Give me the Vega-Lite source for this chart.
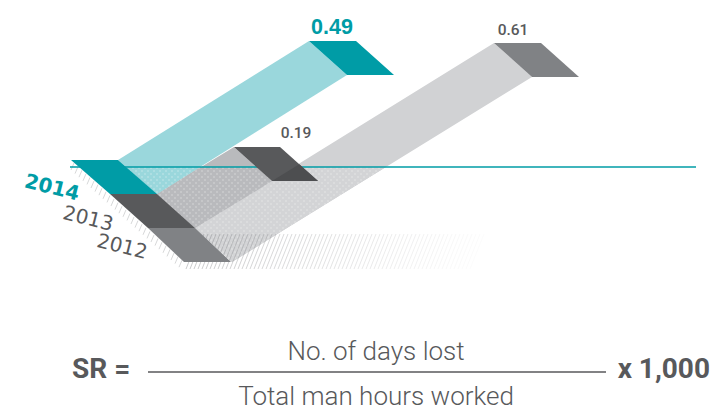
{"$schema":"https://vega.github.io/schema/vega-lite/v6.json","width":710,"height":410,"padding":0,"autosize":{"type":"fit","contains":"padding"},"background":"white","config":{"view":{"stroke":null}},
"resolve":{"scale":{"color":"independent","opacity":"independent"}},
"encoding":{"x":{"field":"x","type":"quantitative","scale":{"domain":[0,710],"nice":false,"zero":false},"axis":null},"y":{"field":"y","type":"quantitative","scale":{"domain":[0,410],"reverse":true,"nice":false,"zero":false},"axis":null}},
"layer":[
{"data":{"values":[
{"part":"ribbon 2012","y":43,"x":494,"x2":494},{"part":"ribbon 2012","y":77,"x":439,"x2":532},{"part":"ribbon 2012","y":228,"x":195,"x2":287},{"part":"ribbon 2012","y":262,"x":232,"x2":232},
{"part":"ribbon 2013","y":147,"x":234,"x2":234},{"part":"ribbon 2013","y":181,"x":178,"x2":272},{"part":"ribbon 2013","y":194,"x":157,"x2":251},{"part":"ribbon 2013","y":228,"x":195,"x2":195},
{"part":"ribbon 2014","y":41,"x":309,"x2":309},{"part":"ribbon 2014","y":75,"x":254.4,"x2":347},{"part":"ribbon 2014","y":160,"x":118,"x2":211.3},{"part":"ribbon 2014","y":194,"x":157,"x2":157},
{"part":"lower 2012","y":167,"x":293.6,"x2":386},{"part":"lower 2012","y":228,"x":195,"x2":287},{"part":"lower 2012","y":262,"x":232,"x2":232},
{"part":"lower 2013","y":167,"x":200,"x2":256},{"part":"lower 2013","y":181,"x":178,"x2":272},{"part":"lower 2013","y":194,"x":157,"x2":251},{"part":"lower 2013","y":228,"x":195,"x2":195},
{"part":"lower 2014","y":167,"x":126,"x2":200},{"part":"lower 2014","y":194,"x":157,"x2":157}
]},"mark":{"type":"area","orient":"horizontal"},"encoding":{"x2":{"field":"x2"},"color":{"field":"part","type":"nominal","legend":null,"scale":{"domain":["ribbon 2012","ribbon 2013","ribbon 2014","lower 2012","lower 2013","lower 2014"],"range":["#D1D2D4","#B9BABD","#9AD7DC","#D3D4D6","#B9BABD","#9AD7DC"]}}}},
{"data":{"values":[
{"y":168,"x":126,"x2":384},{"y":171,"x":129,"x2":380},{"y":174,"x":132,"x2":375},{"y":177,"x":135,"x2":370},{"y":180,"x":138,"x2":365},{"y":183,"x":141,"x2":360},{"y":186,"x":144,"x2":355},{"y":189,"x":147,"x2":350},{"y":192,"x":150,"x2":345},{"y":195,"x":153,"x2":341},{"y":198,"x":156,"x2":336},{"y":201,"x":159,"x2":331},{"y":204,"x":162,"x2":326},{"y":207,"x":165,"x2":321},{"y":210,"x":168,"x2":316},{"y":213,"x":171,"x2":311},{"y":216,"x":174,"x2":306},{"y":219,"x":177,"x2":302},{"y":222,"x":180,"x2":297},{"y":225,"x":183,"x2":292},{"y":228,"x":186,"x2":287},{"y":231,"x":189,"x2":282},{"y":234,"x":192,"x2":277},{"y":237,"x":195,"x2":272},{"y":240,"x":198,"x2":268},{"y":243,"x":201,"x2":263},{"y":246,"x":204,"x2":258},{"y":249,"x":207,"x2":253},{"y":252,"x":210,"x2":248},{"y":255,"x":213,"x2":243},{"y":258,"x":216,"x2":238}
]},"mark":{"type":"rule","color":"white","opacity":0.25,"strokeWidth":1.6,"strokeDash":[2,4]},"encoding":{"x2":{"field":"x2"}}},
{"data":{"values":[
{"x":186,"x2":200,"y":269,"y2":234},{"x":190,"x2":204,"y":269,"y2":234},{"x":194,"x2":208,"y":269,"y2":234},{"x":198,"x2":212,"y":269,"y2":234},{"x":202,"x2":216,"y":269,"y2":234},{"x":206,"x2":220,"y":269,"y2":234},{"x":210,"x2":224,"y":269,"y2":234},{"x":214,"x2":228,"y":269,"y2":234},{"x":218,"x2":232,"y":269,"y2":234},{"x":222,"x2":236,"y":269,"y2":234},{"x":226,"x2":240,"y":269,"y2":234},{"x":230,"x2":244,"y":269,"y2":234},{"x":234,"x2":248,"y":269,"y2":234},{"x":238,"x2":252,"y":269,"y2":234},{"x":242,"x2":256,"y":269,"y2":234},{"x":246,"x2":260,"y":269,"y2":234},{"x":250,"x2":264,"y":269,"y2":234},{"x":254,"x2":268,"y":269,"y2":234},{"x":258,"x2":272,"y":269,"y2":234},{"x":262,"x2":276,"y":269,"y2":234},{"x":266,"x2":280,"y":269,"y2":234},{"x":270,"x2":284,"y":269,"y2":234},{"x":274,"x2":288,"y":269,"y2":234},{"x":278,"x2":292,"y":269,"y2":234},{"x":282,"x2":296,"y":269,"y2":234},{"x":286,"x2":300,"y":269,"y2":234},{"x":290,"x2":304,"y":269,"y2":234},{"x":294,"x2":308,"y":269,"y2":234},{"x":298,"x2":312,"y":269,"y2":234},{"x":302,"x2":316,"y":269,"y2":234},{"x":306,"x2":320,"y":269,"y2":234},{"x":310,"x2":324,"y":269,"y2":234},{"x":314,"x2":328,"y":269,"y2":234},{"x":318,"x2":332,"y":269,"y2":234},{"x":322,"x2":336,"y":269,"y2":234},{"x":326,"x2":340,"y":269,"y2":234},{"x":330,"x2":344,"y":269,"y2":234},{"x":334,"x2":348,"y":269,"y2":234},{"x":338,"x2":352,"y":269,"y2":234},{"x":342,"x2":356,"y":269,"y2":234},{"x":346,"x2":360,"y":269,"y2":234},{"x":350,"x2":364,"y":269,"y2":234},{"x":354,"x2":368,"y":269,"y2":234},{"x":358,"x2":372,"y":269,"y2":234},{"x":362,"x2":376,"y":269,"y2":234},{"x":366,"x2":380,"y":269,"y2":234},{"x":370,"x2":384,"y":269,"y2":234},{"x":374,"x2":388,"y":269,"y2":234},{"x":378,"x2":392,"y":269,"y2":234},{"x":382,"x2":396,"y":269,"y2":234},{"x":386,"x2":400,"y":269,"y2":234},{"x":390,"x2":404,"y":269,"y2":234},{"x":394,"x2":408,"y":269,"y2":234},{"x":398,"x2":412,"y":269,"y2":234},{"x":402,"x2":416,"y":269,"y2":234},{"x":406,"x2":420,"y":269,"y2":234},{"x":410,"x2":424,"y":269,"y2":234},{"x":414,"x2":428,"y":269,"y2":234},{"x":418,"x2":432,"y":269,"y2":234},{"x":422,"x2":436,"y":269,"y2":234},{"x":426,"x2":440,"y":269,"y2":234},{"x":430,"x2":444,"y":269,"y2":234},{"x":434,"x2":448,"y":269,"y2":234},{"x":438,"x2":452,"y":269,"y2":234},{"x":442,"x2":456,"y":269,"y2":234},{"x":446,"x2":460,"y":269,"y2":234},{"x":450,"x2":464,"y":269,"y2":234},{"x":454,"x2":468,"y":269,"y2":234},{"x":458,"x2":472,"y":269,"y2":234},{"x":462,"x2":476,"y":269,"y2":234},{"x":466,"x2":480,"y":269,"y2":234},{"x":470,"x2":484,"y":269,"y2":234}
]},"mark":{"type":"rule","color":"#808285","strokeWidth":1},"encoding":{"y2":{"field":"y2"},"x2":{"field":"x2"},"opacity":{"field":"x","type":"quantitative","legend":null,"scale":{"domain":[186,480],"range":[0.42,0.01]}}}},
{"data":{"values":[
{"x":74,"y":163,"x2":71,"y2":170},{"x":78,"y":166.6,"x2":75,"y2":173.6},{"x":82,"y":170.2,"x2":79,"y2":177.2},{"x":86,"y":173.8,"x2":83,"y2":180.8},{"x":90,"y":177.4,"x2":87,"y2":184.4},{"x":94,"y":181,"x2":91,"y2":188},{"x":98,"y":184.6,"x2":95,"y2":191.6},{"x":102,"y":188.2,"x2":99,"y2":195.2},{"x":106,"y":191.8,"x2":103,"y2":198.8},{"x":110,"y":195.4,"x2":107,"y2":202.4},{"x":114,"y":199,"x2":111,"y2":206},{"x":118,"y":202.6,"x2":115,"y2":209.6},{"x":122,"y":206.2,"x2":119,"y2":213.2},{"x":126,"y":209.8,"x2":123,"y2":216.8},{"x":130,"y":213.4,"x2":127,"y2":220.4},{"x":134,"y":217,"x2":131,"y2":224},{"x":138,"y":220.6,"x2":135,"y2":227.6},{"x":142,"y":224.2,"x2":139,"y2":231.2},{"x":146,"y":227.8,"x2":143,"y2":234.8},{"x":150,"y":231.4,"x2":147,"y2":238.4},{"x":154,"y":235,"x2":151,"y2":242},{"x":158,"y":238.6,"x2":155,"y2":245.6},{"x":162,"y":242.2,"x2":159,"y2":249.2},{"x":166,"y":245.8,"x2":163,"y2":252.8},{"x":170,"y":249.4,"x2":167,"y2":256.4},{"x":174,"y":253,"x2":171,"y2":260},{"x":178,"y":256.6,"x2":175,"y2":263.6},{"x":182,"y":260.2,"x2":179,"y2":267.2}
]},"mark":{"type":"rule","color":"#808285","opacity":0.32,"strokeWidth":1},"encoding":{"x2":{"field":"x2"},"y2":{"field":"y2"}}},
{"data":{"values":[{"x":70,"x2":696,"y":167}]},"mark":{"type":"rule","color":"#009CA6","strokeWidth":1.5},"encoding":{"x2":{"field":"x2"}}},
{"data":{"values":[
{"part":"2014 start","y":160,"x":71,"x2":118},{"part":"2014 start","y":194,"x":110,"x2":157},
{"part":"2013 start","y":194,"x":110,"x2":157},{"part":"2013 start","y":228,"x":148,"x2":195},
{"part":"2012 start","y":228,"x":148,"x2":195},{"part":"2012 start","y":262,"x":184,"x2":231},
{"part":"2014 end","y":41,"x":309,"x2":356},{"part":"2014 end","y":75,"x":347,"x2":394},
{"part":"2013 end","y":147,"x":234,"x2":280},{"part":"2013 end","y":181,"x":272,"x2":318},
{"part":"2012 end","y":43,"x":494,"x2":541},{"part":"2012 end","y":77,"x":532,"x2":579},
{"part":"2013 overlap","y":164.2,"x":299.2,"x2":299.2},{"part":"2013 overlap","y":181,"x":272,"x2":318}
]},"mark":{"type":"area","orient":"horizontal"},"encoding":{"x2":{"field":"x2"},"color":{"field":"part","type":"nominal","legend":null,"scale":{"domain":["2014 start","2013 start","2012 start","2014 end","2013 end","2012 end","2013 overlap"],"range":["#009CA6","#58595B","#808285","#009CA6","#58595B","#808285","#4D4E50"]}}}},
{"data":{"values":[{"x":148,"x2":606,"y":372}]},"mark":{"type":"rule","color":"#58595B","strokeWidth":1.5},"encoding":{"x2":{"field":"x2"}}},
{"data":{"values":[{"x":332,"y":34,"t":"0.49"}]},"mark":{"type":"text","font":"Liberation Sans","fontWeight":"bold","fontSize":21.5,"color":"#009CA6","align":"center","baseline":"alphabetic"},"encoding":{"text":{"field":"t"}}},
{"data":{"values":[{"x":513,"y":35,"t":"0.61"},{"x":296,"y":138,"t":"0.19"}]},"mark":{"type":"text","font":"Roboto","fontWeight":500,"fontSize":15.5,"color":"#58595B","align":"center","baseline":"alphabetic"},"encoding":{"text":{"field":"t"}}},
{"data":{"values":[{"x":52,"y":188,"t":"2014"}]},"mark":{"type":"text","font":"DejaVu Sans","fontWeight":"bold","fontSize":20,"angle":14,"color":"#009CA6","align":"center","baseline":"middle"},"encoding":{"text":{"field":"t"}}},
{"data":{"values":[{"x":88,"y":219,"t":"2013"},{"x":122,"y":247,"t":"2012"}]},"mark":{"type":"text","font":"DejaVu Sans","fontSize":20,"angle":14,"color":"#58595B","align":"center","baseline":"middle"},"encoding":{"text":{"field":"t"}}},
{"data":{"values":[{"x":72,"y":378,"t":"SR ="}]},"mark":{"type":"text","font":"Roboto","fontWeight":"bold","fontSize":28,"color":"#58595B","align":"left","baseline":"alphabetic"},"encoding":{"text":{"field":"t"}}},
{"data":{"values":[{"x":710,"y":378,"t":"x 1,000"}]},"mark":{"type":"text","font":"Roboto","fontWeight":"bold","fontSize":28,"color":"#58595B","align":"right","baseline":"alphabetic"},"encoding":{"text":{"field":"t"}}},
{"data":{"values":[{"x":376,"y":360,"t":"No. of days lost"},{"x":376,"y":405,"t":"Total man hours worked"}]},"mark":{"type":"text","font":"Roboto","fontWeight":300,"fontSize":26,"color":"#58595B","align":"center","baseline":"alphabetic"},"encoding":{"text":{"field":"t"}}}
]}
